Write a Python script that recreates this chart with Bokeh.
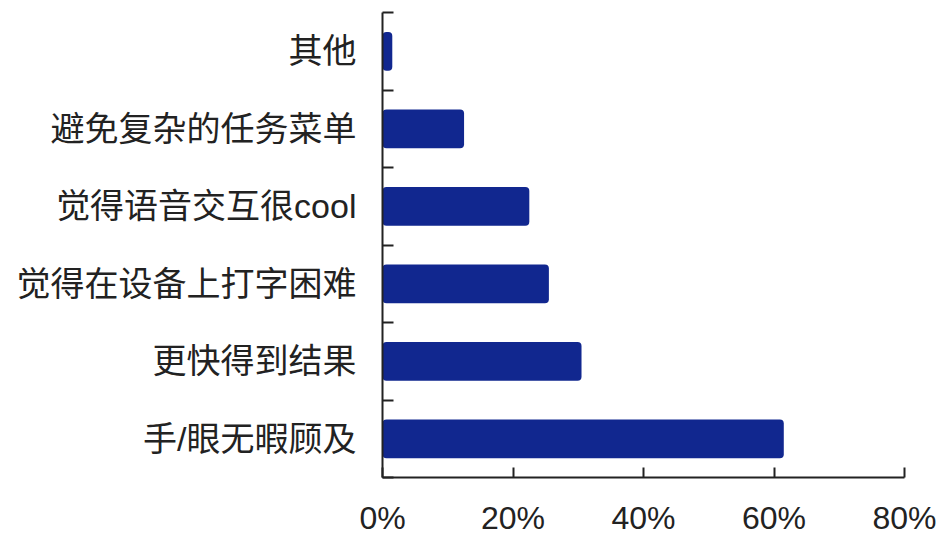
from bokeh.plotting import figure
from bokeh.models import Range1d, FixedTicker, ColumnDataSource
from bokeh.embed import file_html
from bokeh.resources import INLINE

# Data (bottom to top)
categories = ["手/眼无暇顾及", "更快得到结果", "觉得在设备上打字困难", "觉得语音交互很cool", "避免复杂的任务菜单", "其他"]
values = [61.5, 30.5, 25.5, 22.5, 12.5, 1.5]
x_ticks = [0, 20, 40, 60, 80]
x_tick_labels = ["0%", "20%", "40%", "60%", "80%"]

n = len(categories)
centers = [i + 0.5 for i in range(n)]
boundaries = list(range(n + 1))

src = ColumnDataSource(dict(y=centers, v=values, cat=categories))

p = figure(width=943, height=538, output_backend="svg", toolbar_location=None,
           x_range=Range1d(0, 80), y_range=Range1d(0, n),
           min_border_left=382, min_border_right=39, min_border_top=12, min_border_bottom=59)

p.hbar(y="y", left=0, right="v", height=0.5, source=src,
       fill_color="#11278f", line_color=None, border_radius=4)

font = "Liberation Sans, Noto Sans CJK SC"

p.outline_line_color = None
p.xgrid.visible = False
p.ygrid.visible = False

# Y axis
p.yaxis.ticker = FixedTicker(ticks=centers, minor_ticks=boundaries)
p.yaxis.major_label_overrides = {c: lab for c, lab in zip(centers, categories)}
p.yaxis.major_tick_in = 0
p.yaxis.major_tick_out = 0
p.yaxis.minor_tick_in = 11
p.yaxis.minor_tick_out = 0
p.yaxis.minor_tick_line_color = "#222222"
p.yaxis.minor_tick_line_width = 2
p.yaxis.axis_line_color = "#222222"
p.yaxis.axis_line_width = 2
p.yaxis.major_label_text_font = font
p.yaxis.major_label_text_font_size = "34px"
p.yaxis.major_label_text_color = "#222222"
p.yaxis.major_label_standoff = 26

# X axis
p.xaxis.ticker = FixedTicker(ticks=x_ticks, minor_ticks=[])
p.xaxis.major_label_overrides = {t: lab for t, lab in zip(x_ticks, x_tick_labels)}
p.xaxis.major_tick_in = 10
p.xaxis.major_tick_out = 0
p.xaxis.major_tick_line_color = "#222222"
p.xaxis.major_tick_line_width = 2
p.xaxis.axis_line_color = "#222222"
p.xaxis.axis_line_width = 2
p.xaxis.major_label_text_font = font
p.xaxis.major_label_text_font_size = "32px"
p.xaxis.major_label_text_color = "#222222"
p.xaxis.major_label_standoff = 22

open("out.html", "w").write(file_html(p, INLINE))
